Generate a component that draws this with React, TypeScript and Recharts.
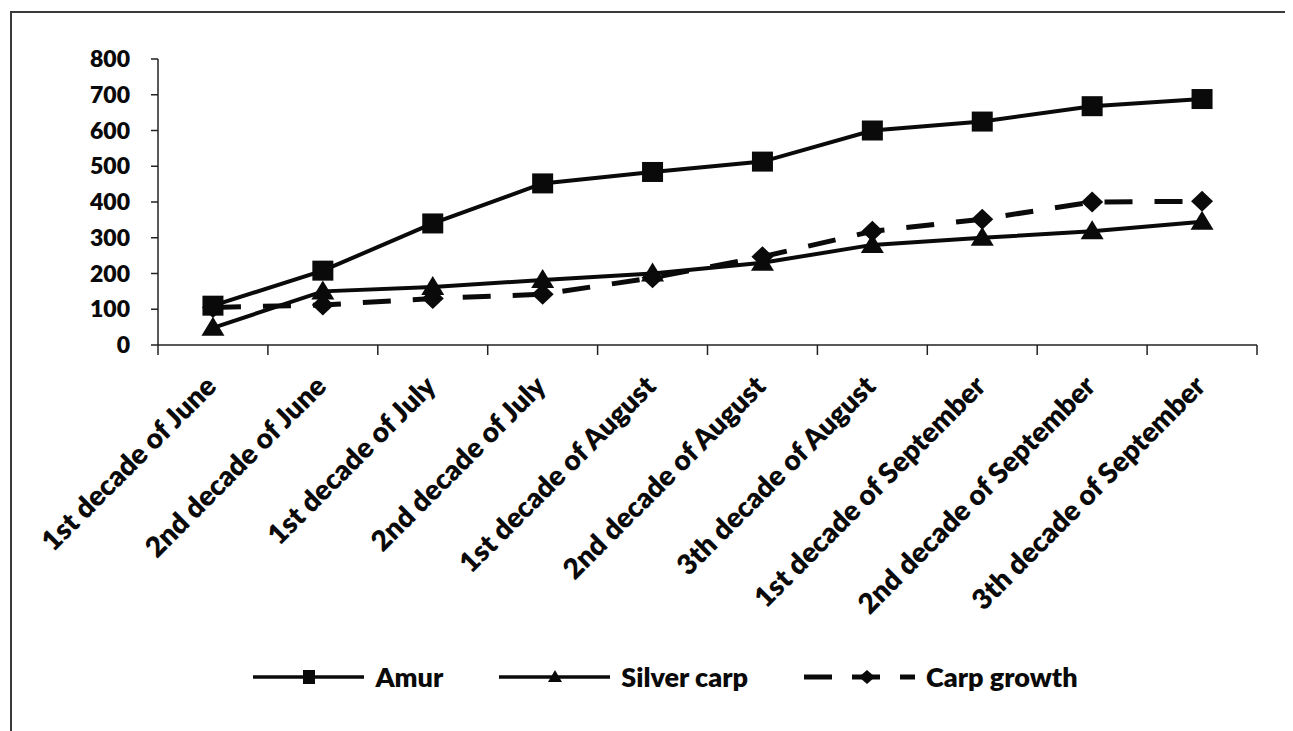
import React from 'react';
import { LineChart, Line, XAxis, YAxis, Legend } from 'recharts';

// Sampling periods (ten-day "decades" of each month)
const categories = [
  '1st decade of June',
  '2nd decade of June',
  '1st decade of July',
  '2nd decade of July',
  '1st decade of August',
  '2nd decade of August',
  '3th decade of August',
  '1st decade of September',
  '2nd decade of September',
  '3th decade of September',
];

const amurValues = [110, 208, 340, 452, 484, 513, 600, 625, 668, 688];
const silverCarpValues = [48, 150, 162, 182, 200, 230, 280, 300, 318, 345];
const carpGrowthValues = [105, 112, 130, 142, 188, 247, 318, 352, 400, 402];

const yTicks = [0, 100, 200, 300, 400, 500, 600, 700, 800];

const data = categories.map((label, i) => ({
  label,
  amur: amurValues[i],
  silver: silverCarpValues[i],
  carp: carpGrowthValues[i],
}));

const FONT = 'Lato, "DejaVu Sans", sans-serif';
const WEIGHT = 800;
const INK = '#0a0a0a';
const AXIS = '#222';
const DASH = '28 22';

const SquareDot = (p: any) =>
  p.cx == null ? null : (
    <rect key={`sq-${p.index}`} x={p.cx - 10.5} y={p.cy - 10} width={21} height={20} fill={INK} />
  );

const TriangleDot = (p: any) =>
  p.cx == null ? null : (
    <path
      key={`tr-${p.index}`}
      d={`M${p.cx},${p.cy - 11} L${p.cx + 11.5},${p.cy + 8} L${p.cx - 11.5},${p.cy + 8} Z`}
      fill={INK}
    />
  );

const DiamondDot = (p: any) =>
  p.cx == null ? null : (
    <path
      key={`dm-${p.index}`}
      d={`M${p.cx},${p.cy - 10.5} L${p.cx + 11},${p.cy} L${p.cx},${p.cy + 10.5} L${p.cx - 11},${p.cy} Z`}
      fill={INK}
    />
  );

// Category tick: tick marks sit on the band boundaries, the label is rotated under the band centre
const CategoryTick = (props: any) => {
  const { x, y, payload, index, width, visibleTicksCount } = props;
  const half = width / visibleTicksCount / 2;
  const isLast = index === visibleTicksCount - 1;
  return (
    <g>
      <line x1={x - half} y1={y} x2={x - half} y2={y + 10} stroke={AXIS} strokeWidth={1.5} />
      {isLast && (
        <line x1={x + half} y1={y} x2={x + half} y2={y + 10} stroke={AXIS} strokeWidth={1.5} />
      )}
      <g transform={`translate(${x + 5},${y + 43})`}>
        <text
          x={0}
          y={0}
          textAnchor="end"
          transform="rotate(-45)"
          fontFamily={FONT}
          fontWeight={WEIGHT}
          fontSize={28}
          fill={INK}
        >
          {payload.value}
        </text>
      </g>
    </g>
  );
};

const legendItems = [
  { name: 'Amur', shape: 'square', dashed: false },
  { name: 'Silver carp', shape: 'triangle', dashed: false },
  { name: 'Carp growth', shape: 'diamond', dashed: true },
];

const LegendIcon = ({ shape, dashed }: { shape: string; dashed: boolean }) => {
  const w = 111;
  const cx = shape === 'diamond' ? 63 : 56;
  const cy = 12;
  let marker: React.ReactNode = null;
  if (shape === 'square') marker = <rect x={cx - 6} y={cy - 7} width={12} height={14} fill={INK} />;
  if (shape === 'triangle')
    marker = <path d={`M${cx},${cy - 7} L${cx + 7},${cy + 5} L${cx - 7},${cy + 5} Z`} fill={INK} />;
  if (shape === 'diamond')
    marker = <path d={`M${cx},${cy - 7} L${cx + 8},${cy} L${cx},${cy + 7} L${cx - 8},${cy} Z`} fill={INK} />;
  return (
    <svg width={w} height={24} style={{ display: 'block' }}>
      <line
        x1={0}
        y1={cy}
        x2={w}
        y2={cy}
        stroke={INK}
        strokeWidth={dashed ? 5 : 3.5}
        strokeDasharray={dashed ? '28 20' : undefined}
      />
      {marker}
    </svg>
  );
};

const LegendContent = () => (
  <div
    style={{
      display: 'flex',
      justifyContent: 'center',
      alignItems: 'center',
      height: 30,
      paddingLeft: 30,
      fontFamily: FONT,
      fontWeight: WEIGHT,
      fontSize: 27,
      color: INK,
    }}
  >
    {legendItems.map((item, i) => (
      <div
        key={item.name}
        style={{ display: 'flex', alignItems: 'center', marginLeft: i === 0 ? 0 : 56 }}
      >
        <LegendIcon shape={item.shape} dashed={item.dashed} />
        <span style={{ marginLeft: 11, lineHeight: '30px' }}>{item.name}</span>
      </div>
    ))}
  </div>
);

export default function App() {
  return (
    <div style={{ position: 'relative', width: 1285, height: 723, background: '#fff' }}>
      <div
        style={{
          position: 'absolute',
          left: 2,
          top: 3,
          width: 1281,
          height: 740,
          borderTop: '2px solid #3a3a3a',
          borderLeft: '2px solid #3a3a3a',
          borderRight: '1px solid #ececec',
          boxSizing: 'border-box',
        }}
      />
      <div style={{ position: 'absolute', left: 0, top: 0 }}>
        <LineChart
          width={1285}
          height={723}
          data={data}
          margin={{ top: 51, right: 36, bottom: 39, left: 0 }}
        >
          <XAxis
            dataKey="label"
            scale="band"
            height={317}
            axisLine={{ stroke: AXIS, strokeWidth: 1.5 }}
            tickLine={false}
            tickSize={0}
            tickMargin={0}
            interval={0}
            tick={<CategoryTick />}
          />
          <YAxis
            width={150}
            domain={[0, 800]}
            ticks={yTicks}
            tickSize={7}
            tickMargin={21}
            axisLine={{ stroke: AXIS, strokeWidth: 1.5 }}
            tickLine={{ stroke: AXIS, strokeWidth: 1.5 }}
            tick={{ fontFamily: FONT, fontWeight: WEIGHT, fontSize: 23, fill: INK }}
          />
          <Legend
            verticalAlign="bottom"
            content={<LegendContent />}
            wrapperStyle={{ left: 0, width: 1285, bottom: 39 }}
          />
          <Line
            dataKey="amur"
            name="Amur"
            stroke={INK}
            strokeWidth={4}
            dot={SquareDot}
            activeDot={false}
            isAnimationActive={false}
          />
          <Line
            dataKey="silver"
            name="Silver carp"
            stroke={INK}
            strokeWidth={4}
            dot={TriangleDot}
            activeDot={false}
            isAnimationActive={false}
          />
          <Line
            dataKey="carp"
            name="Carp growth"
            stroke={INK}
            strokeWidth={5}
            strokeDasharray={DASH}
            dot={DiamondDot}
            activeDot={false}
            isAnimationActive={false}
          />
        </LineChart>
      </div>
    </div>
  );
}
